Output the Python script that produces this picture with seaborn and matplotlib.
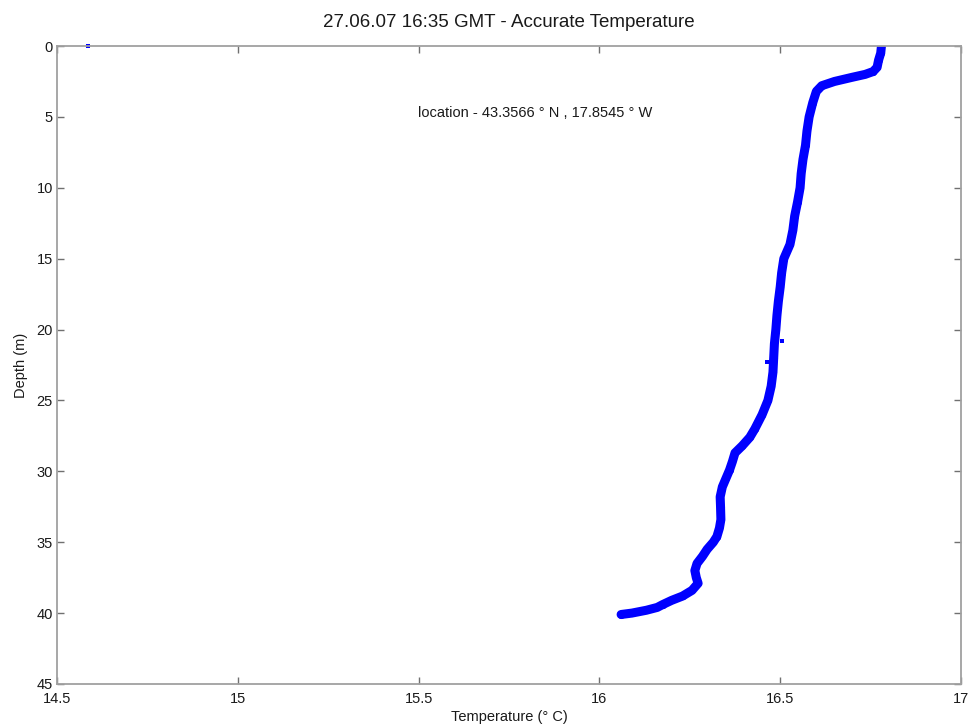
import matplotlib
matplotlib.use("Agg")
import matplotlib.pyplot as plt
import seaborn as sns
import pandas as pd

# profile
depth = [0.0, 0.5, 1.0, 1.5, 1.8, 2.0, 2.2, 2.5, 2.8, 3.2, 4.0, 5.0, 6.0, 7.0, 8.0,
         9.0, 10.0, 11.0, 12.0, 13.0, 14.0, 15.0, 16.0, 17.0, 18.0, 19.0, 20.0,
         21.0, 22.0, 23.0, 24.0, 25.0, 26.0, 27.0, 27.6, 28.2, 28.7, 29.3, 29.9,
         30.5, 31.1, 31.8, 32.5, 33.4, 34.0, 34.6, 35.0, 35.5, 36.0, 36.5, 37.0,
         37.5, 37.9, 38.4, 38.8, 39.1, 39.4, 39.6, 39.8, 40.0, 40.1]
temperature = [16.780, 16.778, 16.772, 16.768, 16.757, 16.735, 16.700, 16.650, 16.615,
               16.600, 16.590, 16.580, 16.574, 16.570, 16.563, 16.558, 16.555, 16.548,
               16.540, 16.535, 16.527, 16.510, 16.504, 16.500, 16.495, 16.491, 16.488,
               16.484, 16.482, 16.480, 16.475, 16.466, 16.450, 16.430, 16.416, 16.395,
               16.375, 16.368, 16.360, 16.350, 16.340, 16.334, 16.335, 16.336, 16.332,
               16.325, 16.315, 16.298, 16.285, 16.270, 16.264, 16.268, 16.273, 16.256,
               16.230, 16.200, 16.175, 16.160, 16.130, 16.090, 16.060]
outlier_depth = [0.0, 20.8, 22.3]
outlier_temp = [14.586, 16.505, 16.463]

x_ticks = [14.5, 15, 15.5, 16, 16.5, 17]
x_tick_labels = ["14.5", "15", "15.5", "16", "16.5", "17"]
y_ticks = [0, 5, 10, 15, 20, 25, 30, 35, 40, 45]

title = "27.06.07 16:35 GMT - Accurate Temperature"
annotation = "location - 43.3566 \u00b0 N , 17.8545 \u00b0 W"
xlabel = "Temperature (\u00b0 C)"
ylabel = "Depth (m)"

sns.set_theme(style="white")
plt.rcParams["font.family"] = ["Liberation Sans", "DejaVu Sans"]

fig = plt.figure(figsize=(9.71, 7.26), dpi=100)
ax = fig.add_axes([0.0587, 0.0579, 0.9310, 0.8787])

df = pd.DataFrame({"T": temperature, "D": depth})
sns.lineplot(data=df, x="T", y="D", sort=False, estimator=None, ax=ax,
             color="#0000ff", lw=6.5, solid_capstyle="round")
sns.scatterplot(data=df, x="T", y="D", ax=ax, color="#0000ff", s=26,
                marker="o", linewidth=0)
dfo = pd.DataFrame({"T": outlier_temp, "D": outlier_depth})
sns.scatterplot(data=dfo, x="T", y="D", ax=ax, color="#0000ff", s=6,
                marker="s", linewidth=0, clip_on=False)

ax.set_xlim(14.5, 17)
ax.set_ylim(45, 0)
ax.set_xticks(x_ticks)
ax.set_xticklabels(x_tick_labels)
ax.set_yticks(y_ticks)

for s in ax.spines.values():
    s.set_color("#a0a0a0")
    s.set_linewidth(1.3)
ax.tick_params(axis="both", which="both", direction="in", length=5, width=1,
               color="#707070", labelsize=10.5, labelcolor="#1a1a1a",
               top=True, right=True, bottom=True, left=True, pad=3)
ax.tick_params(axis="x", pad=6)

ax.set_xlabel(xlabel, fontsize=10.5, color="#1a1a1a", labelpad=3)
ax.set_ylabel(ylabel, fontsize=10.5, color="#1a1a1a", labelpad=6)
ax.set_title(title, fontsize=13.5, color="#1a1a1a", pad=14)
ax.text(15.498, 4.7, annotation, fontsize=10.5, color="#1a1a1a",
        ha="left", va="center")

fig.savefig("out.png", dpi=100)
